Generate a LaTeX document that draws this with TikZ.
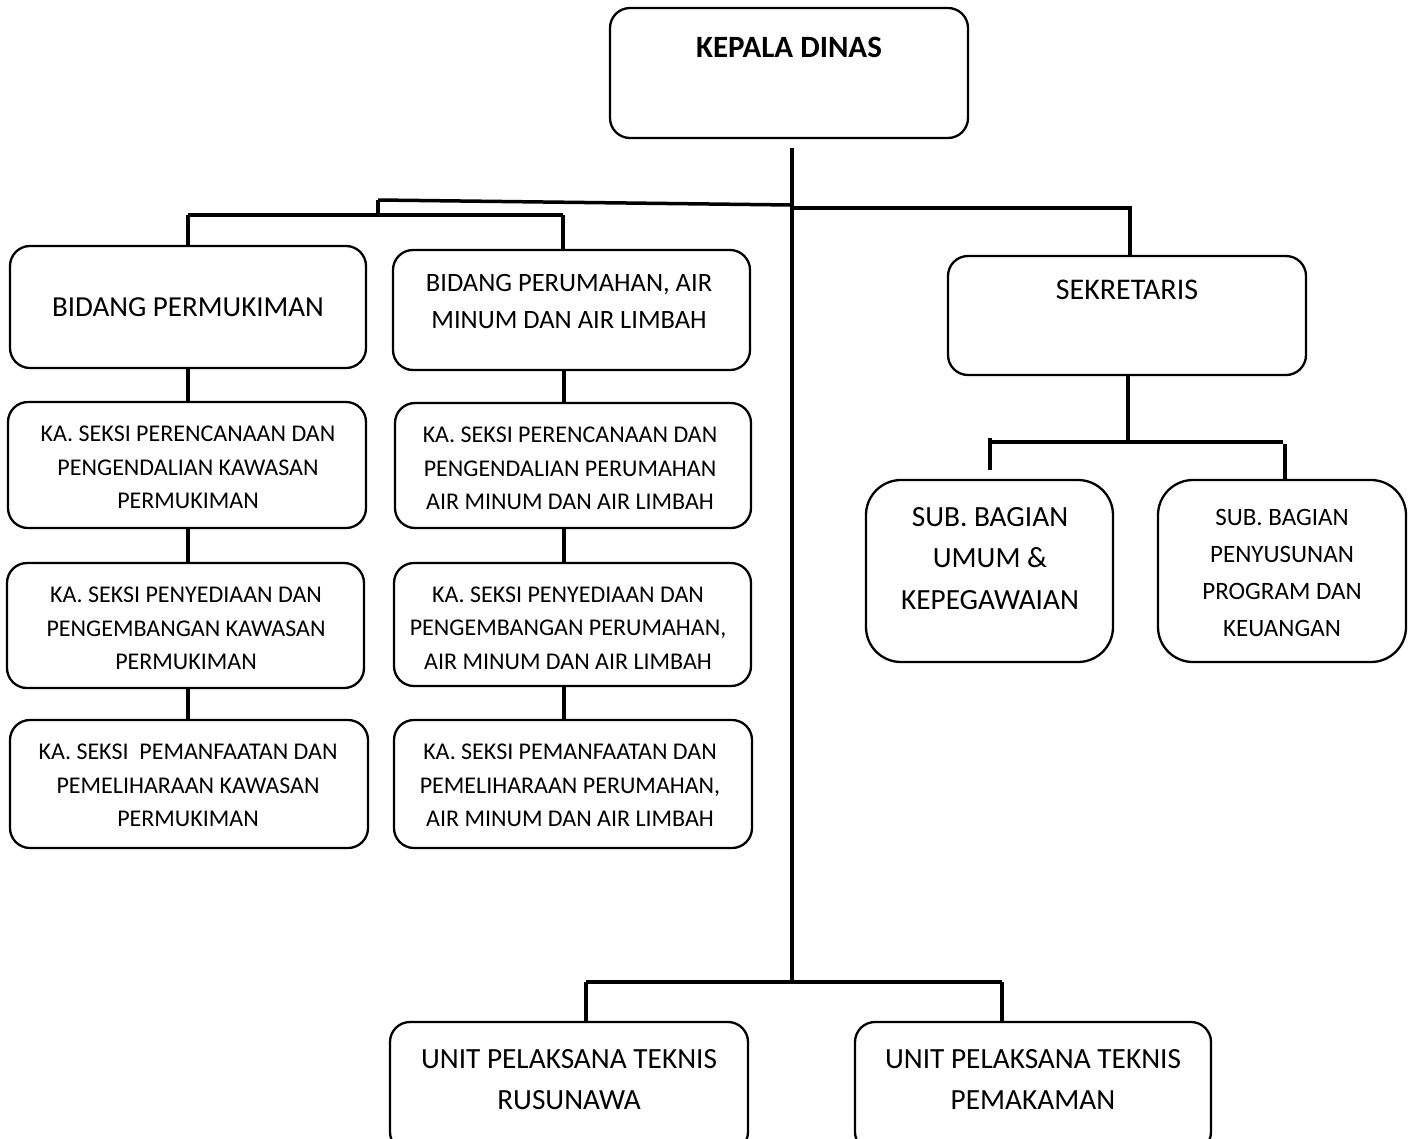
\documentclass[tikz,border=0pt]{standalone}
\usepackage{fontspec}
\setmainfont{Carlito}
\begin{document}
\begin{tikzpicture}[x=1pt,y=-1pt,
  box/.style={draw, line width=2.3pt, rounded corners=20pt, inner sep=0pt},
  lbl/.style={inner sep=0pt, align=center, font=\fontsize{24}{33.5}\selectfont},
  big/.style={inner sep=0pt, align=center, font=\fontsize{29}{37}\selectfont},
  conn/.style={line width=3.5pt}]
\useasboundingbox (0,0) rectangle (1413,1138);
\fill[white] (0,0) rectangle (1413,1138);
% boxes
\node[box, minimum width=358pt, minimum height=130pt] (kd) at (789,73) {};
\node[box, minimum width=356pt, minimum height=122pt] (bp) at (188,307) {};
\node[box, minimum width=357pt, minimum height=120pt] (bpr) at (571.5,310) {};
\node[box, minimum width=358pt, minimum height=119pt] (sek) at (1127,315.5) {};
\node[box, minimum width=358pt, minimum height=126pt] (l1) at (187,465) {};
\node[box, minimum width=357pt, minimum height=125pt] (l2) at (185.5,625.5) {};
\node[box, minimum width=358pt, minimum height=128pt] (l3) at (189,784) {};
\node[box, minimum width=356pt, minimum height=125pt] (r1) at (573,465.5) {};
\node[box, minimum width=357pt, minimum height=123pt] (r2) at (572.5,624.5) {};
\node[box, minimum width=358pt, minimum height=128pt] (r3) at (573,784) {};
\node[box, rounded corners=35pt, minimum width=247pt, minimum height=182pt] (sb1) at (989.5,571) {};
\node[box, rounded corners=35pt, minimum width=248pt, minimum height=182pt] (sb2) at (1282,571) {};
\node[box, minimum width=358pt, minimum height=130pt] (u1) at (569,1087) {};
\node[box, minimum width=356pt, minimum height=130pt] (u2) at (1033,1087) {};
% texts
\node[big, font=\fontsize{31}{37}\selectfont\bfseries] (tkd) at (789,47) {KEPALA DINAS};
\node[big] (tbp) at (188,307) {BIDANG PERMUKIMAN};
\node[big, font=\fontsize{26.5}{37}\selectfont] (tbpr) at (569,301.5) {BIDANG PERUMAHAN, AIR\\MINUM DAN AIR LIMBAH};
\node[big, font=\fontsize{30}{37}\selectfont] (tsek) at (1127,290) {SEKRETARIS};
\node[lbl] (tl1) at (188,467.5) {KA. SEKSI PERENCANAAN DAN\\PENGENDALIAN KAWASAN\\PERMUKIMAN};
\node[lbl] (tl2) at (186,628.5) {KA. SEKSI PENYEDIAAN DAN\\PENGEMBANGAN KAWASAN\\PERMUKIMAN};
\node[lbl] (tl3) at (188,785.5) {KA. SEKSI\ \ PEMANFAATAN DAN\\PEMELIHARAAN KAWASAN\\PERMUKIMAN};
\node[lbl] (tr1) at (570,468.5) {KA. SEKSI PERENCANAAN DAN\\PENGENDALIAN PERUMAHAN\\AIR MINUM DAN AIR LIMBAH};
\node[lbl] (tr2) at (568,628) {KA. SEKSI PENYEDIAAN DAN\\PENGEMBANGAN PERUMAHAN,\\AIR MINUM DAN AIR LIMBAH};
\node[lbl] (tr3) at (570,785.5) {KA. SEKSI PEMANFAATAN DAN\\PEMELIHARAAN PERUMAHAN,\\AIR MINUM DAN AIR LIMBAH};
\node[big, font=\fontsize{29.3}{41.5}\selectfont] (tsb1) at (990,558.5) {SUB. BAGIAN\\UMUM \&\\KEPEGAWAIAN};
\node[lbl, font=\fontsize{25}{37}\selectfont] (tsb2) at (1282,572.5) {SUB. BAGIAN\\PENYUSUNAN\\PROGRAM DAN\\KEUANGAN};
\node[big, font=\fontsize{29.3}{41}\selectfont] (tu1) at (569,1079.5) {UNIT PELAKSANA TEKNIS\\RUSUNAWA};
\node[big, font=\fontsize{29.3}{41}\selectfont] (tu2) at (1033,1079.5) {UNIT PELAKSANA TEKNIS\\PEMAKAMAN};
% junction coordinates
\coordinate (mtop) at (792,148);
\coordinate (mbot) at (792,982);
\coordinate (ja) at (378,200);
\coordinate (jb) at (792,205);
\coordinate (jc) at (378,215);
\coordinate (jl) at (188,215);
\coordinate (jr) at (563,215);
\coordinate (js1) at (792,208);
\coordinate (js2) at (1130,208);
\coordinate (sj) at (1128,442);
\coordinate (sjl) at (990,442);
\coordinate (sjr) at (1283,442);
\coordinate (sjl2) at (990,438);
\coordinate (sjl3) at (990,470);
\coordinate (sjr2) at (1285,444);
\coordinate (ub1) at (586,982);
\coordinate (ub2) at (1002,982);
% connectors
\draw[conn] (mtop) -- (mbot);
\draw[conn] (ja) -- (jb);
\draw[conn] (ja) -- (jc);
\draw[conn] (jl) -- (jr);
\draw[conn] (jl) -- (jl |- bp.north);
\draw[conn] (jr) -- (jr |- bpr.north);
\draw[conn] (js1) -- (js2) -- (js2 |- sek.north);
\draw[conn] (188,0 |- bp.south) -- (188,0 |- l1.north);
\draw[conn] (188,0 |- l1.south) -- (188,0 |- l2.north);
\draw[conn] (188,0 |- l2.south) -- (188,0 |- l3.north);
\draw[conn] (564,0 |- bpr.south) -- (564,0 |- r1.north);
\draw[conn] (564,0 |- r1.south) -- (564,0 |- r2.north);
\draw[conn] (564,0 |- r2.south) -- (564,0 |- r3.north);
\draw[conn] (sek.south -| sj) -- (sj);
\draw[conn] (sjl) -- (sjr);
\draw[conn] (sjl2) -- (sjl3);
\draw[conn] (sjr2) -- (sjr2 |- sb2.north);
\draw[conn] (ub1) -- (ub2);
\draw[conn] (ub1) -- (ub1 |- u1.north);
\draw[conn] (ub2) -- (ub2 |- u2.north);
\end{tikzpicture}
\end{document}
